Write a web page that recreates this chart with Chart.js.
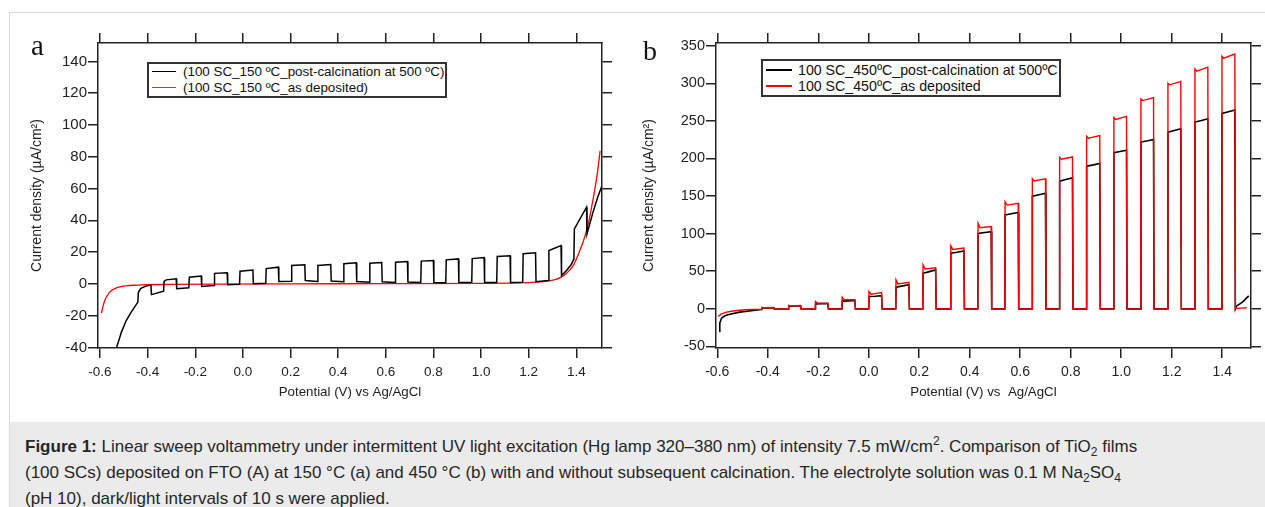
<!DOCTYPE html>
<html>
<head>
<meta charset="utf-8">
<script src="https://cdn.jsdelivr.net/npm/chart.js@4.4.1/dist/chart.umd.min.js"></script>
<style>
  html, body { margin:0; padding:0; background:#fff; }
  body { width:1265px; height:507px; overflow:hidden; position:relative; font-family:"Liberation Sans", Arial, sans-serif; color:#222; }
  #frame { position:absolute; left:9px; top:12px; right:-2px; bottom:-2px; border-left:1px solid #dcdcdc; border-top:1px solid #dcdcdc; }
  #cap { position:absolute; left:10px; top:422px; width:1255px; height:85px; background:#ebebeb; }
  #capText { position:absolute; left:15px; top:12px; font-size:17px; line-height:26px; color:#262626; white-space:nowrap; }
  #capText sup, #capText sub { font-size:12px; line-height:0; }
  canvas { position:absolute; top:0; }
  #cA { left:0; } #cB { left:630px; }
  .lbl { position:absolute; font-family:"Liberation Serif", "Times New Roman", serif; color:#111; line-height:1; }
  .legbox { position:absolute; box-sizing:border-box; border:2px solid #333; background:#fff; }
  .legline { position:absolute; height:0; }
  .legtxt { position:absolute; height:16px; line-height:16px; white-space:nowrap; color:#111; }
</style>
</head>
<body>
<div id="frame"></div>
<canvas id="cA" width="630" height="420"></canvas>
<canvas id="cB" width="635" height="420"></canvas>

<div class="lbl" style="left:31px; top:31px; font-size:29px;">a</div>
<div class="lbl" style="left:643px; top:37px; font-size:28px;">b</div>

<div class="legbox" style="left:147px; top:62px; width:300px; height:36px;"></div>
<div class="legline" style="left:152px; top:71px; width:24px; border-top:1.5px solid #000;"></div>
<div class="legline" style="left:152px; top:87px; width:24px; border-top:1.5px solid #ff2020;"></div>
<div class="legtxt" style="left:183px; top:64px; font-size:13.4px;">(100 SC_150 ºC_post-calcination at 500 ºC)</div>
<div class="legtxt" style="left:183px; top:80px; font-size:13.4px;">(100 SC_150 ºC_as deposited)</div>

<div class="legbox" style="left:761px; top:59px; width:300px; height:38px;"></div>
<div class="legline" style="left:766px; top:69px; width:26px; border-top:2px solid #000;"></div>
<div class="legline" style="left:766px; top:85px; width:26px; border-top:2px solid #ff0000;"></div>
<div class="legtxt" style="left:798px; top:62px; font-size:14.2px;">100 SC_450ºC_post-calcination at 500ºC</div>
<div class="legtxt" style="left:798px; top:78px; font-size:14.2px;">100 SC_450ºC_as deposited</div>

<div id="cap"><div id="capText"><b>Figure 1:</b> Linear sweep voltammetry under intermittent UV light excitation (Hg lamp 320–380 nm) of intensity 7.5 mW/cm<sup>2</sup>. Comparison of TiO<sub>2</sub> films<br>(100 SCs) deposited on FTO (A) at 150 °C (a) and 450 °C (b) with and without subsequent calcination. The electrolyte solution was 0.1 M Na<sub>2</sub>SO<sub>4</sub><br>(pH 10), dark/light intervals of 10 s were applied.</div></div>

<script>
// ---------- Panel a data ----------
const aTicksX = [-0.6, -0.4, -0.2, 0.0, 0.2, 0.4, 0.6, 0.8, 1.0, 1.2, 1.4];
const aTicksY = [-40, -20, 0, 20, 40, 60, 80, 100, 120, 140];

// 100 SC_150 ºC post-calcination at 500 ºC (black), potential (V) and current density (µA/cm2)
const aPostV = [-0.534, -0.525, -0.51, -0.49, -0.469, -0.441, -0.439, -0.43, -0.41, -0.386,
  -0.384, -0.333, -0.331, -0.322, -0.280, -0.278, -0.227, -0.225, -0.175, -0.173, -0.121,
  -0.119, -0.066, -0.064, -0.014, -0.012, 0.042, 0.044, 0.096, 0.098, 0.149, 0.151, 0.203,
  0.205, 0.260, 0.262, 0.313, 0.315, 0.369, 0.371, 0.422, 0.424, 0.476, 0.478, 0.531,
  0.533, 0.583, 0.585, 0.639, 0.641, 0.691, 0.693, 0.747, 0.749, 0.800, 0.802, 0.852,
  0.854, 0.905, 0.907, 0.961, 0.963, 1.013, 1.015, 1.066, 1.068, 1.122, 1.124, 1.175,
  1.177, 1.229, 1.231, 1.283, 1.285, 1.336, 1.338, 1.36, 1.378, 1.390, 1.392, 1.443,
  1.445, 1.47, 1.49, 1.506];
const aPostJ = [-41.5, -37.5, -30.4, -23.1, -17.8, -11.5, -5.5, -3.0, -1.6, -0.8,
  -6.8, -4.6, 1.5, 2.5, 3.2, -3.1, -2.5, 4.2, 4.9, -1.7, -1.0,
  6.6, 7.0, -0.6, -0.3, 7.9, 8.7, 0.0, 0.3, 9.6, 10.5, 1.5, 1.6,
  11.5, 12.0, 2.1, 1.5, 11.5, 12.2, 1.7, 1.3, 12.6, 13.2, 1.5, 1.0,
  13.0, 13.4, 1.3, 0.8, 13.6, 14.0, 1.1, 0.8, 14.3, 14.7, 0.8, 0.6,
  15.1, 15.7, 1.0, 0.8, 15.9, 16.6, 0.8, 0.8, 17.2, 17.6, 0.8, 1.0,
  18.9, 19.5, 1.3, 2.1, 21.0, 24.1, 5.2, 8.5, 12.0, 15.5, 34.6, 48.2,
  31.4, 45.0, 54.5, 61.0];

// 100 SC_150 ºC as deposited (red)
const aAsDepV = [-0.594, -0.587, -0.58, -0.57, -0.559, -0.545, -0.531, -0.51, -0.49, -0.46,
  -0.42, -0.3, -0.1, 0.2, 0.6, 1.0, 1.2, 1.25, 1.283, 1.31, 1.331, 1.345, 1.359, 1.373,
  1.387, 1.40, 1.415, 1.43, 1.443, 1.455, 1.464, 1.475, 1.488, 1.5];
const aAsDepJ = [-18.4, -14.0, -10.5, -7.5, -5.2, -3.6, -2.5, -1.7, -1.3, -0.9,
  -0.6, -0.4, -0.2, 0.0, 0.1, 0.3, 0.8, 1.2, 1.8, 2.7, 3.8, 5.0, 6.6, 8.8,
  11.5, 15.5, 21.0, 27.0, 33.5, 41.0, 48.0, 57.0, 69.0, 83.7];

// ---------- Panel b data ----------
const bTicksX = [-0.6, -0.4, -0.2, 0.0, 0.2, 0.4, 0.6, 0.8, 1.0, 1.2, 1.4];
const bTicksY = [-50, 0, 50, 100, 150, 200, 250, 300, 350];

// 100 SC_450ºC post-calcination at 500ºC (black)
const bPostV = [-0.592, -0.590, -0.583, -0.570, -0.550, -0.511, -0.458, -0.424,
  -0.423, -0.376, -0.374,
  -0.318, -0.317, -0.270, -0.268,
  -0.212, -0.211, -0.162, -0.160,
  -0.106, -0.105, -0.080, -0.055, -0.053,
  0.000, 0.001, 0.025, 0.051, 0.053,
  0.107, 0.108, 0.130, 0.159, 0.161,
  0.214, 0.215, 0.240, 0.265, 0.267,
  0.324, 0.325, 0.350, 0.377, 0.379,
  0.432, 0.433, 0.460, 0.485, 0.487,
  0.539, 0.540, 0.565, 0.592, 0.594,
  0.647, 0.648, 0.675, 0.700, 0.702,
  0.755, 0.756, 0.780, 0.807, 0.809,
  0.862, 0.863, 0.890, 0.915, 0.917,
  0.970, 0.971, 0.995, 1.021, 1.023,
  1.077, 1.078, 1.105, 1.128, 1.130,
  1.184, 1.185, 1.210, 1.236, 1.238,
  1.291, 1.292, 1.318, 1.343, 1.345,
  1.398, 1.399, 1.425, 1.450, 1.452,
  1.456, 1.480, 1.505];
const bPostJ = [-30.0, -19.0, -12.4, -9.3, -7.1, -4.4, -2.2, -0.9,
  1.2, 1.5, -0.4,
  -0.3, 3.5, 4.0, -0.2,
  -0.1, 6.5, 7.0, 0.0,
  0.0, 10.3, 10.6, 11.0, 0.0,
  0.0, 16.4, 16.8, 17.6, 0.0,
  0.0, 28.8, 30.2, 32.0, 0.0,
  0.0, 47.3, 49.5, 51.8, 0.0,
  0.0, 74.0, 75.3, 77.0, 0.0,
  0.0, 100.4, 101.5, 102.7, 0.0,
  0.0, 124.8, 126.5, 128.3, 0.0,
  0.0, 149.8, 151.8, 153.8, 0.0,
  0.0, 169.8, 172.0, 174.2, 0.0,
  0.0, 189.8, 191.5, 193.3, 0.0,
  0.0, 207.6, 209.3, 211.1, 0.0,
  0.0, 221.8, 223.5, 225.3, 0.0,
  0.0, 235.0, 237.2, 239.5, 0.0,
  0.0, 248.4, 250.6, 252.9, 0.0,
  0.0, 260.0, 262.2, 264.4, 0.0,
  3.5, 9.0, 17.3];

// 100 SC_450ºC as deposited (red)
const bAsDepV = [-0.596, -0.585, -0.567, -0.545, -0.52, -0.49, -0.46, -0.424,
  -0.423, -0.416, -0.376, -0.374,
  -0.318, -0.317, -0.310, -0.270, -0.268,
  -0.212, -0.211, -0.203, -0.162, -0.160,
  -0.106, -0.105, -0.097, -0.055, -0.053,
  0.000, 0.001, 0.009, 0.051, 0.053,
  0.107, 0.108, 0.116, 0.159, 0.161,
  0.214, 0.215, 0.223, 0.265, 0.267,
  0.324, 0.325, 0.333, 0.377, 0.379,
  0.432, 0.433, 0.441, 0.485, 0.487,
  0.539, 0.540, 0.548, 0.592, 0.594,
  0.647, 0.648, 0.655, 0.700, 0.702,
  0.755, 0.756, 0.763, 0.807, 0.809,
  0.862, 0.863, 0.870, 0.915, 0.917,
  0.970, 0.971, 0.978, 1.021, 1.023,
  1.077, 1.078, 1.085, 1.128, 1.130,
  1.184, 1.185, 1.192, 1.236, 1.238,
  1.291, 1.292, 1.299, 1.343, 1.345,
  1.398, 1.399, 1.406, 1.450, 1.452,
  1.475, 1.497];
const bAsDepJ = [-10.2, -7.1, -4.8, -3.2, -2.2, -1.3, -0.8, -0.4,
  2.0, 1.5, 1.8, -0.2,
  -0.2, 4.6, 4.0, 4.4, -0.2,
  -0.1, 9.7, 7.6, 7.6, -0.1,
  0.0, 15.5, 12.0, 12.2, 0.0,
  0.0, 23.0, 19.5, 21.7, 0.0,
  0.0, 38.5, 33.2, 35.4, 0.0,
  0.0, 58.4, 53.1, 54.5, 0.0,
  0.0, 84.0, 79.0, 81.0, 0.0,
  0.0, 113.7, 108.0, 109.5, 0.0,
  0.0, 142.5, 138.0, 140.5, 0.0,
  0.0, 173.0, 170.0, 173.0, 0.0,
  0.0, 201.5, 199.0, 202.0, 0.0,
  0.0, 229.5, 227.0, 230.5, 0.0,
  0.0, 254.5, 252.0, 256.0, 0.0,
  0.0, 279.0, 277.0, 281.0, 0.0,
  0.0, 300.0, 298.0, 302.5, 0.0,
  0.0, 319.0, 316.0, 321.5, 0.0,
  0.0, 336.0, 333.5, 339.0, 0.5,
  1.0, 1.5];

// ---------- helpers ----------
const pts = (xs, ys) => xs.map((x, i) => ({ x: x, y: ys[i] }));
Chart.defaults.font.family = '"Liberation Sans", Arial, sans-serif';
Chart.defaults.color = '#222';
const AX = '#222';

function buildScales(o) {
  const setTicks = arr => s => { s.ticks = arr.map(v => ({ value: v })); };
  const gridOpt = { drawOnChartArea: false, drawTicks: true, tickLength: 10, color: AX, lineWidth: 1.5 };
  const border = { color: AX, width: 1.5 };
  return {
    x: { type: 'linear', position: 'bottom', min: o.xmin, max: o.xmax,
      afterBuildTicks: setTicks(o.tx), afterFit: s => { s.height = o.hb; },
      ticks: { callback: v => v.toFixed(1), font: { size: o.xfs }, padding: 6, maxRotation: 0, autoSkip: false, color: '#222' },
      grid: gridOpt, border: border,
      title: { display: true, text: o.xtitle, font: { size: 13.3 }, color: '#222', padding: { top: 0, bottom: 20 } } },
    x2: { type: 'linear', position: 'top', min: o.xmin, max: o.xmax,
      afterBuildTicks: setTicks(o.tx), afterFit: s => { s.height = o.ht; },
      ticks: { display: false }, grid: gridOpt, border: border },
    y: { type: 'linear', position: 'left', min: o.ymin, max: o.ymax,
      afterBuildTicks: setTicks(o.ty), afterFit: s => { s.width = o.wl; },
      ticks: { callback: v => String(v), font: { size: o.yfs }, padding: 1, autoSkip: false, color: '#222' },
      grid: gridOpt, border: border,
      title: { display: true, text: 'Current density (µA/cm²)', font: { size: 14 }, color: '#222', padding: { top: o.ytp, bottom: 0 } } },
    y2: { type: 'linear', position: 'right', min: o.ymin, max: o.ymax,
      afterBuildTicks: setTicks(o.ty), afterFit: s => { s.width = o.wr; },
      ticks: { display: false }, grid: gridOpt, border: border }
  };
}

const baseOptions = {
  responsive: false, animation: false, devicePixelRatio: 1,
  plugins: { legend: { display: false }, tooltip: { enabled: false } },
  layout: { padding: 0 },
  elements: { point: { radius: 0 } }
};

new Chart(document.getElementById('cA'), {
  type: 'scatter',
  data: { datasets: [
    { label: '(100 SC_150 ºC_post-calcination at 500 ºC)', data: pts(aPostV, aPostJ), showLine: true,
      borderColor: '#000', borderWidth: 1.5, tension: 0, pointRadius: 0, order: 0 },
    { label: '(100 SC_150 ºC_as deposited)', data: pts(aAsDepV, aAsDepJ), showLine: true,
      borderColor: '#ff0000', borderWidth: 1.3, cubicInterpolationMode: 'monotone', pointRadius: 0, order: 1 }
  ] },
  options: Object.assign({}, baseOptions, {
    scales: buildScales({ xmin: -0.6084, xmax: 1.508, ymin: -40.4, ymax: 151.6, tx: aTicksX, ty: aTicksY,
      hb: 72, ht: 43, wl: 98, wr: 28, xfs: 13.5, yfs: 15, ytp: 28.6, xtitle: 'Potential (V) vs Ag/AgCl' })
  })
});

new Chart(document.getElementById('cB'), {
  type: 'scatter',
  data: { datasets: [
    { label: '100 SC_450ºC_post-calcination at 500ºC', data: pts(bPostV, bPostJ), showLine: true,
      borderColor: '#000', borderWidth: 1.6, tension: 0, pointRadius: 0, order: 1 },
    { label: '100 SC_450ºC_as deposited', data: pts(bAsDepV, bAsDepJ), showLine: true,
      borderColor: '#ff0000', borderWidth: 1.4, tension: 0, pointRadius: 0, order: 0 }
  ] },
  options: Object.assign({}, baseOptions, {
    scales: buildScales({ xmin: -0.605, xmax: 1.514, ymin: -52.1, ymax: 353.6, tx: bTicksX, ty: bTicksY,
      hb: 72, ht: 43, wl: 86, wr: 14, xfs: 14, yfs: 14.5, ytp: 10.6, xtitle: 'Potential (V) vs  Ag/AgCl' })
  })
});
</script>
</body>
</html>
